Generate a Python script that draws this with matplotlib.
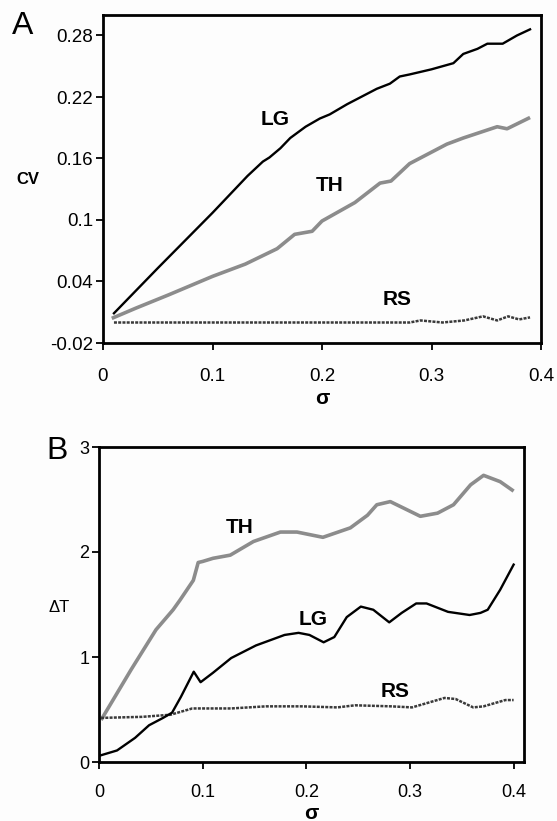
import matplotlib
matplotlib.use("Agg")
import matplotlib.pyplot as plt

plt.rcParams['font.family'] = ['Liberation Sans', 'DejaVu Sans']

# ---------------- Panel A data (CV vs sigma) ----------------
a_lg_x = [0.010, 0.030, 0.050, 0.075, 0.100, 0.116, 0.132, 0.146, 0.152, 0.162, 0.171,
          0.185, 0.198, 0.207, 0.223, 0.250, 0.262, 0.271, 0.280, 0.300, 0.320, 0.329,
          0.342, 0.351, 0.365, 0.378, 0.390]
a_lg_y = [0.009, 0.031, 0.053, 0.080, 0.107, 0.125, 0.143, 0.157, 0.161, 0.170, 0.180,
          0.191, 0.199, 0.203, 0.213, 0.228, 0.233, 0.240, 0.242, 0.247, 0.253, 0.262,
          0.267, 0.272, 0.272, 0.280, 0.286]

a_th_x = [0.008, 0.030, 0.060, 0.100, 0.130, 0.159, 0.175, 0.191, 0.200, 0.230, 0.253,
          0.263, 0.280, 0.314, 0.329, 0.360, 0.369, 0.390]
a_th_y = [0.004, 0.014, 0.027, 0.045, 0.057, 0.072, 0.086, 0.089, 0.099, 0.117, 0.136,
          0.138, 0.155, 0.174, 0.180, 0.191, 0.189, 0.200]

a_rs_x = [0.010, 0.100, 0.200, 0.280, 0.290, 0.310, 0.330, 0.347, 0.360, 0.370, 0.380, 0.390]
a_rs_y = [0.000, 0.000, 0.000, 0.000, 0.002, 0.000, 0.002, 0.006, 0.002, 0.006, 0.003, 0.005]

# ---------------- Panel B data (Delta T vs sigma) ----------------
b_th_x = [0.002, 0.031, 0.055, 0.0715, 0.078, 0.091, 0.0957, 0.100, 0.110, 0.1266, 0.149,
          0.175, 0.191, 0.216, 0.2425, 0.259, 0.268, 0.281, 0.2976, 0.310, 0.3266, 0.342,
          0.3585, 0.371, 0.387, 0.400]
b_th_y = [0.40, 0.88, 1.26, 1.45, 1.54, 1.73, 1.90, 1.91, 1.94, 1.97, 2.10,
          2.19, 2.19, 2.14, 2.23, 2.35, 2.45, 2.48, 2.40, 2.34, 2.37, 2.45,
          2.64, 2.73, 2.67, 2.58]

b_lg_x = [0.0005, 0.0174, 0.0348, 0.0483, 0.0618, 0.0705, 0.079, 0.0914, 0.098, 0.110,
          0.1275, 0.1514, 0.179, 0.1925, 0.203, 0.2167, 0.227, 0.239, 0.2526, 0.2646,
          0.280, 0.292, 0.306, 0.316, 0.3367, 0.3575, 0.368, 0.375, 0.387, 0.400]
b_lg_y = [0.06, 0.11, 0.23, 0.35, 0.42, 0.47, 0.62, 0.86, 0.76, 0.85,
          0.99, 1.11, 1.21, 1.23, 1.21, 1.14, 1.19, 1.38, 1.48, 1.45,
          1.33, 1.42, 1.51, 1.51, 1.43, 1.40, 1.42, 1.45, 1.64, 1.88]

b_rs_x = [0.002, 0.0415, 0.069, 0.090, 0.1275, 0.161, 0.196, 0.230, 0.247, 0.282,
          0.302, 0.316, 0.3333, 0.344, 0.361, 0.371, 0.392, 0.400]
b_rs_y = [0.42, 0.43, 0.45, 0.51, 0.51, 0.53, 0.53, 0.52, 0.54, 0.53,
          0.52, 0.56, 0.61, 0.60, 0.52, 0.53, 0.59, 0.59]

a_yticks = [-0.02, 0.04, 0.1, 0.16, 0.22, 0.28]
a_ytick_labels = ['-0.02', '0.04', '0.1', '0.16', '0.22', '0.28']
x_ticks = [0, 0.1, 0.2, 0.3, 0.4]
x_tick_labels = ['0', '0.1', '0.2', '0.3', '0.4']
b_yticks = [0, 1, 2, 3]
b_ytick_labels = ['0', '1', '2', '3']

W, H = 557, 821
fig = plt.figure(figsize=(W / 100, H / 100), dpi=100)
fig.patch.set_facecolor('#fdfdfd')

def box(l, r, t, b):
    return [l / W, 1 - b / H, (r - l) / W, (b - t) / H]

axA = fig.add_axes(box(103, 541, 15, 343))
axB = fig.add_axes(box(99, 524, 447, 762))

TH_COLOR = '#8c8c8c'
RS_COLOR = '#3a3a3a'

for ax in (axA, axB):
    ax.set_facecolor('#fdfdfd')
    for s in ax.spines.values():
        s.set_linewidth(2.0)
        s.set_color('black')
    ax.tick_params(direction='out', length=5, width=1.3, color='black')

# Panel A
axA.plot(a_th_x, a_th_y, color=TH_COLOR, lw=2.6, solid_capstyle='butt')
axA.plot(a_rs_x, a_rs_y, color=RS_COLOR, lw=1.8, linestyle=(0, (1.2, 0.5)))
axA.plot(a_lg_x, a_lg_y, color='black', lw=1.7)
axA.set_xlim(0, 0.4)
axA.set_ylim(-0.02, 0.30)
axA.set_xticks(x_ticks)
axA.set_xticklabels(x_tick_labels)
axA.set_yticks(a_yticks)
axA.set_yticklabels(a_ytick_labels)
axA.tick_params(axis='x', labelsize=13.5, pad=13)
axA.tick_params(axis='y', labelsize=13.5, pad=2)
axA.text(0.157, 0.1985, 'LG', fontsize=15, fontweight='bold', ha='center', va='center')
axA.text(0.207, 0.134, 'TH', fontsize=15, fontweight='bold', ha='center', va='center')
axA.text(0.269, 0.022, 'RS', fontsize=15, fontweight='bold', ha='center', va='center')

# Panel B
axB.plot(b_th_x, b_th_y, color=TH_COLOR, lw=2.6, solid_capstyle='butt')
axB.plot(b_rs_x, b_rs_y, color=RS_COLOR, lw=1.8, linestyle=(0, (1.2, 0.5)))
axB.plot(b_lg_x, b_lg_y, color='black', lw=1.7)
axB.set_xlim(0, 0.41)
axB.set_ylim(0, 3)
axB.set_xticks(x_ticks)
axB.set_xticklabels(x_tick_labels)
axB.set_yticks(b_yticks)
axB.set_yticklabels(b_ytick_labels)
axB.tick_params(axis='x', labelsize=13, pad=11)
axB.tick_params(axis='y', labelsize=13, pad=2)
axB.text(0.136, 2.23, 'TH', fontsize=15, fontweight='bold', ha='center', va='center')
axB.text(0.207, 1.357, 'LG', fontsize=15, fontweight='bold', ha='center', va='center')
axB.text(0.286, 0.667, 'RS', fontsize=15, fontweight='bold', ha='center', va='center')

# Axis titles and panel letters
fig.text(322 / W, 1 - 398 / H, 'σ', fontsize=15, fontweight='bold', ha='center', va='center')
fig.text(311 / W, 1 - 813 / H, 'σ', fontsize=15, fontweight='bold', ha='center', va='center')
fig.text(28 / W, 1 - 180 / H, 'CV', fontsize=12, fontweight='bold', ha='center', va='center')
fig.text(59 / W, 1 - 607 / H, 'ΔT', fontsize=12, ha='center', va='center')
fig.text(23 / W, 1 - 26 / H, 'A', fontsize=23, ha='center', va='center')
fig.text(57 / W, 1 - 451 / H, 'B', fontsize=23, ha='center', va='center')

fig.savefig('out.png', dpi=100, facecolor=fig.get_facecolor())
